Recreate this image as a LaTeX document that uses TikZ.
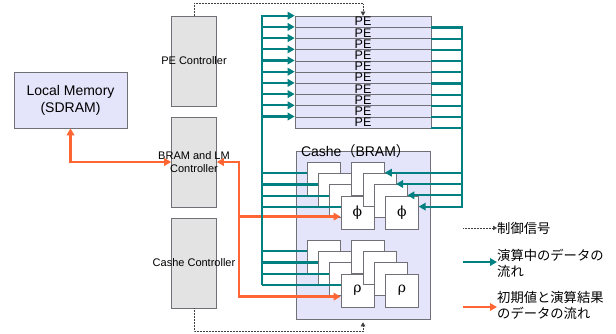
\documentclass[tikz,border=0pt]{standalone}
\usepackage{fontspec}
\setmainfont{Liberation Sans}
\newfontfamily\jp{Noto Sans CJK JP}
\newfontfamily\grk{DejaVu Serif}
\usepackage{xcolor}
\usepackage{tikz}
\usetikzlibrary{arrows.meta,calc}

\definecolor{lavfill}{RGB}{228,228,250}
\definecolor{ctrlfill}{RGB}{227,227,227}
\definecolor{edgegray}{RGB}{112,112,118}
\definecolor{datateal}{RGB}{0,128,128}
\definecolor{initorange}{RGB}{255,102,51}

\tikzset{
  ctrl/.style={draw=edgegray, fill=ctrlfill, line width=0.6pt, minimum width=45pt, minimum height=90pt, inner sep=0pt},
  ctrltext/.style={font=\fontsize{11}{13.5}\selectfont, align=center, inner sep=0pt},
  perow/.style={draw=edgegray, fill=lavfill, line width=0.6pt, minimum width=136pt, minimum height=11.2pt, inner sep=0pt, font=\fontsize{12.5}{12.5}\selectfont},
  page/.style={draw=edgegray, fill=white, line width=0.6pt, minimum size=33pt, inner sep=0pt, font=\grk\fontsize{14}{14}\selectfont},
  dataflow/.style={datateal, line width=2.2pt},
  initflow/.style={initorange, line width=2.6pt},
  ctrlsig/.style={black!75, densely dotted, line width=0.5pt},
  legtext/.style={font=\jp\fontsize{13.3}{15.5}\selectfont, align=left, anchor=west, inner sep=0pt},
}

\begin{document}
\begin{tikzpicture}[x=1pt, y=-1pt, >={Triangle[length=7pt,width=7.5pt]}]
\useasboundingbox (0,0) rectangle (616,333);

% Local memory and the three controllers
\node[draw=edgegray, fill=lavfill, line width=0.6pt, minimum width=113pt, minimum height=56pt, align=center, font=\fontsize{14}{17}\selectfont] (lm) at (70.5,100) {Local Memory\\(SDRAM)};
\node[ctrl, label={[ctrltext]center:PE Controller}] (pectrl) at (194,61) {};
\node[ctrl, label={[ctrltext]center:BRAM and LM\\Controller}] (bramctrl) at (194,162) {};
\node[ctrl, label={[ctrltext]center:Cashe Controller}] (cashectrl) at (194,263) {};

% PE array
\foreach \i in {0,...,9}
  \node[perow] (pe\i) at (363, 21.6+11.2*\i) {PE};

% Cashe (BRAM) with the phi and rho pages
\node[draw=edgegray, fill=lavfill, line width=0.6pt, minimum width=134pt, minimum height=168pt, inner sep=0pt] (cashe) at (363,235) {};
\node[font=\fontsize{14}{16}\selectfont, inner sep=0pt] (cashelbl) at (355.5,151) {Cashe{\jp （}BRAM{\jp ）}};
\foreach \i in {0,...,3}
  \node[page] (phiL\i) at (323.5+11.3*\i, 178.5+11.3*\i) {\ifnum\i=3 ϕ\fi};
\foreach \i in {0,...,3}
  \node[page] (phiR\i) at (368+11.3*\i, 178.5+11.3*\i) {\ifnum\i=3 ϕ\fi};
\foreach \i in {0,...,3}
  \node[page] (rhoL\i) at (323.5+11.3*\i, 256.5+11.3*\i) {\ifnum\i=3 ρ\fi};
\foreach \i in {0,...,3}
  \node[page] (rhoR\i) at (368+11.3*\i, 256.5+11.3*\i) {\ifnum\i=3 ρ\fi};

% bus positions and entry points
\coordinate (lbus) at (262,0);
\coordinate (rbus) at (462,0);
\coordinate (obus) at (239,0);
\foreach \s in {phi,rho}
  \foreach \i in {0,...,3}
    \coordinate (\s Lin\i) at ([yshift=-11.5pt]\s L\i.north west);
\foreach \i in {0,...,3}
  \coordinate (phiRin\i) at ([yshift=-11pt]phiR\i.north east);
\coordinate (phiOin) at ([yshift=-21pt]phiL3.north west);
\coordinate (rhoOin) at ([yshift=-23pt]rhoL3.north west);

% Initial values and results (orange)
\draw[initflow,<->] (lm.south) |- (bramctrl.west);
\draw[initflow,<->] (bramctrl.east) -| (obus |- rhoOin) -- (rhoOin);
\draw[initflow,->] (obus |- phiOin) -- (phiOin);

% Data during computation (teal)
\draw[dataflow,->] (lbus |- rhoLin3) |- (pe0.north west);
\foreach \i in {1,...,9}
  \draw[dataflow,->] (lbus |- pe\i.north west) -- (pe\i.north west);
\foreach \s in {phi,rho}
  \foreach \i in {0,...,3}
    \draw[dataflow] (lbus |- \s Lin\i) -- (\s Lin\i);
\draw[dataflow,->] (pe0.south east) -| (rbus |- phiRin3) -- (phiRin3);
\foreach \i in {1,...,9}
  \draw[dataflow] (pe\i.south east) -- (rbus |- pe\i.south east);
\foreach \i in {0,...,2}
  \draw[dataflow,->] (rbus |- phiRin\i) -- (phiRin\i);

% Control signals (dotted)
\draw[ctrlsig,-{Triangle[length=4pt,width=4.5pt]}] (pectrl.north) -- ++(0,-12) -| (pe0.north);
\draw[ctrlsig,-{Triangle[length=4pt,width=4.5pt]}] (cashectrl.south) -- ++(0,23) -| ([yshift=-3pt]cashe.south);

% Legend
\node[legtext] (legctrl) at (497,228) {制御信号};
\node[legtext] (legdata) at (497,263.5) {演算中のデータの\\流れ};
\node[legtext] (leginit) at (497,305.5) {初期値と演算結果\\のデータの流れ};
\coordinate (legctrlfrom) at (463,228);
\coordinate (legdatafrom) at (463,262);
\coordinate (leginitfrom) at (463,307);
\draw[ctrlsig,-{Triangle[length=4pt,width=4.5pt]}] (legctrlfrom) -- (legctrl.west);
\draw[dataflow,->] (legdatafrom) -- (legdatafrom -| legdata.west);
\draw[initflow,->] (leginitfrom) -- (leginitfrom -| leginit.west);

\end{tikzpicture}
\end{document}
